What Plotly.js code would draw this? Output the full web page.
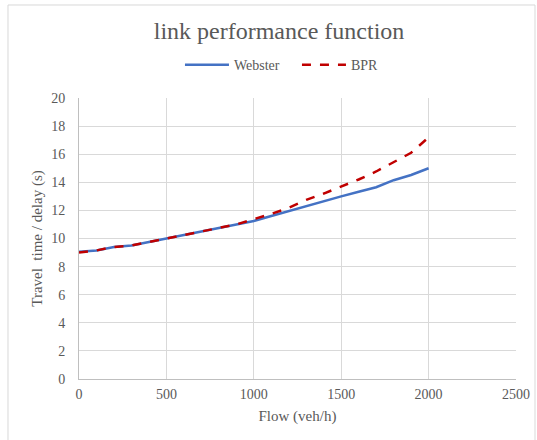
<!DOCTYPE html>
<html>
<head>
<meta charset="utf-8">
<script src="https://cdn.plot.ly/plotly-3.0.1.min.js"></script>
<style>html,body{margin:0;padding:0;background:#fff;}#chart{width:537px;height:440px;}</style>
</head>
<body>
<div id="chart"></div>
<script>
var flow = [0,100,200,300,400,500,600,700,800,900,1000,1100,1200,1300,1400,1500,1600,1700,1800,1900,2000];
var webster = [9.05,9.15,9.4,9.5,9.75,10.0,10.2,10.45,10.7,10.95,11.25,11.6,11.95,12.35,12.7,13.0,13.33,13.65,14.15,14.52,15.0];
var bpr = [9.0,9.15,9.4,9.5,9.75,10.0,10.2,10.45,10.72,11.0,11.38,11.75,12.18,12.75,13.2,13.7,14.2,14.77,15.44,16.1,17.2];
var titleText = "link performance function";
var xTitle = "Flow (veh/h)";
var yTitle = "Travel  time / delay (s)";

var font = "Liberation Serif";
var grey = "#595959";
var traces = [
  {x: flow, y: webster, name: "Webster", mode: "lines", line: {color: "#4472C4", width: 2.5}},
  {x: flow, y: bpr, name: "BPR", mode: "lines", line: {color: "#C00000", width: 2.5, dash: "dash"}}
];
var layout = {
  width: 537, height: 440,
  margin: {l: 79, r: 21, t: 98, b: 61},
  paper_bgcolor: "#fff", plot_bgcolor: "#fff",
  font: {family: font, color: grey, size: 14},
  title: {text: titleText, font: {family: font, size: 24, color: grey}, xref: "container", x: 0.5196, xanchor: "center", yref: "container", y: 0.93, yanchor: "middle"},
  showlegend: true,
  legend: {orientation: "h", itemwidth: 44, entrywidth: 58, entrywidthmode: "pixels", xref: "container", x: 0.553, xanchor: "center", yref: "container", y: 0.852, yanchor: "middle", font: {family: font, size: 14, color: grey}},
  xaxis: {range: [0, 2500], dtick: 500, tick0: 0, showgrid: true, gridcolor: "#d9d9d9", gridwidth: 1, showline: true, linecolor: "#bfbfbf", linewidth: 1, zeroline: false, ticks: "", ticklabelstandoff: 2, tickfont: {family: font, size: 14, color: grey},
    title: {text: xTitle, font: {family: font, size: 15, color: grey}, standoff: 9}},
  yaxis: {range: [0, 20], dtick: 2, tick0: 0, showgrid: true, gridcolor: "#d9d9d9", gridwidth: 1, showline: true, linecolor: "#bfbfbf", linewidth: 1, zeroline: false, ticks: "", ticklabelstandoff: 10, tickfont: {family: font, size: 14, color: grey},
    title: {text: yTitle, font: {family: font, size: 15, color: grey}, standoff: 4}},
  shapes: [{type: "rect", xref: "paper", yref: "paper", x0: -0.1625, x1: 1.0435, y0: -0.25, y1: 1.331, line: {color: "#d9d9d9", width: 1}, fillcolor: "rgba(0,0,0,0)", layer: "below"}]
};
Plotly.newPlot("chart", traces, layout, {displayModeBar: false, staticPlot: true});
</script>
</body>
</html>
